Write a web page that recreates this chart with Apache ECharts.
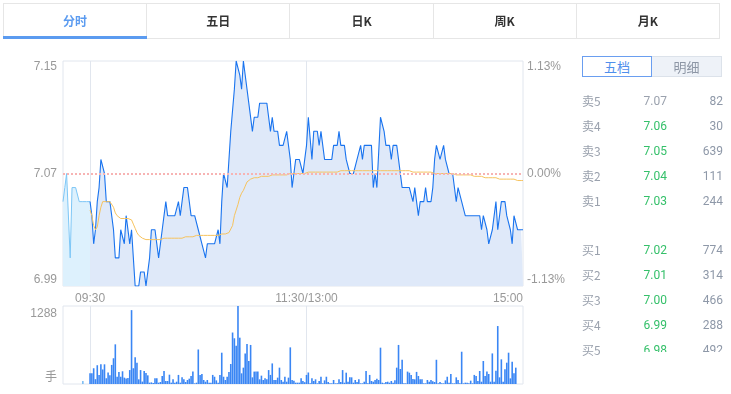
<!DOCTYPE html>
<html><head><meta charset="utf-8">
<script src="https://cdn.jsdelivr.net/npm/echarts@6/dist/echarts.min.js"></script>
<style>
body{margin:0;background:#fff;font-family:"Noto Sans CJK SC","Noto Sans",sans-serif;}
#wrap{position:relative;width:731px;height:394px;overflow:hidden;background:#fff;}
#chart{position:absolute;left:0;top:0;width:731px;height:394px;}
.tabs{position:absolute;left:3px;top:3px;width:717px;height:36px;border:1px solid #e6e6e6;box-sizing:border-box;display:flex;}
.tab{flex:1;text-align:center;line-height:33px;font-size:12px;color:#333;border-right:1px solid #e6e6e6;position:relative;font-weight:bold;}
.tab:last-child{border-right:none;}
.tab.active{color:#5b9bf0;}
.tab.active:after{content:"";position:absolute;left:-1px;right:-1px;bottom:-1px;height:3px;background:#5b9bf0;}
.btn{position:absolute;top:56px;width:70px;height:21px;box-sizing:border-box;text-align:center;line-height:19px;font-size:13px;}
.btn.on{border:1px solid #6a9ef0;color:#4f8fec;background:#fff;}
.btn.off{border:1px solid #dce2ea;border-left:none;color:#8d96a5;background:#eef2f8;}
.lbl{position:absolute;left:582px;font-size:12px;line-height:16px;color:#9aa1ad;}
#clip{position:absolute;left:560px;top:0;width:171px;height:352px;overflow:hidden;}
.num{position:absolute;font-size:12px;line-height:16px;font-family:Roboto,"Noto Sans",sans-serif;}
</style></head>
<body>
<div id="wrap">
  <div id="chart"></div>
  <div class="tabs" id="tabs"></div>
  <div class="btn on" style="left:582px">五档</div>
  <div class="btn off" style="left:652px">明细</div>
  <div id="book"></div>
  <div id="clip"></div>
</div>
<script>
// ---------- data ----------
const prevClose = 7.07;
const tabNames = ['分时','五日','日K','周K','月K'];
const priceTicks = [6.99, 7.07, 7.15];
const xTickIdx = [15, 135, 255];
const xTickLabels = ['09:30','11:30/13:00','15:00'];
const volTicks = [0, 1288];

// pre-market 09:15 - 09:30
const preMarket = [7.05,7.06,7.07,7.07,7.01,7.06,7.06,7.06,7.06,7.05,7.05,7.05,7.05,7.05,7.05,7.05];
const preVolume = [0,0,0,0,0,0,0,0,0,0,0,50,0,0,0];

// 09:30 - 15:00 price
const mainPrices = [
7.05,7.04,7.02,7.03,7.05,7.06,7.08,7.08,7.07,7.05,
7.05,7.05,7.05,7.03,7.01,7.01,7.01,7.03,7.03,7.02,
7.04,7.04,7.02,7.03,7.01,6.99,6.99,6.99,7.00,7.00,
7.00,6.99,7.00,7.01,7.03,7.03,7.03,7.02,7.01,7.02,
7.03,7.04,7.05,7.04,7.04,7.04,7.04,7.04,7.04,7.05,
7.04,7.05,7.06,7.06,7.06,7.05,7.04,7.04,7.04,7.04,
7.03,7.03,7.02,7.02,7.01,7.02,7.02,7.02,7.02,7.02,
7.02,7.03,7.02,7.05,7.07,7.07,7.06,7.06,7.10,7.10,
7.13,7.15,7.15,7.14,7.13,7.15,7.15,7.13,7.12,7.12,
7.10,7.11,7.11,7.11,7.12,7.12,7.12,7.12,7.12,7.11,
7.10,7.11,7.10,7.10,7.10,7.09,7.09,7.09,7.09,7.10,
7.10,7.08,7.06,7.07,7.08,7.08,7.08,7.08,7.07,7.08,
7.09,7.11,7.11,7.08,7.10,7.10,7.10,7.09,7.10,7.09,
7.08,7.08,7.08,7.08,7.08,7.09,7.09,7.09,7.10,7.09,
7.09,7.09,7.08,7.08,7.07,7.07,7.07,7.07,7.08,7.08,
7.09,7.08,7.09,7.09,7.09,7.09,7.09,7.06,7.07,7.06,
7.06,7.11,7.11,7.10,7.09,7.09,7.09,7.08,7.09,7.09,
7.09,7.08,7.08,7.06,7.06,7.06,7.06,7.06,7.06,7.05,
7.06,7.05,7.04,7.05,7.05,7.05,7.06,7.05,7.05,7.05,
7.06,7.08,7.09,7.09,7.08,7.08,7.09,7.08,7.08,7.07,
7.07,7.07,7.07,7.05,7.06,7.06,7.05,7.05,7.04,7.04,
7.04,7.04,7.04,7.04,7.04,7.04,7.04,7.03,7.04,7.04,
7.03,7.02,7.02,7.03,7.03,7.05,7.03,7.03,7.05,7.05,
7.05,7.04,7.04,7.03,7.02,7.04,7.04,7.03,7.03,7.03,7.03];

// average price
const avgPrices = [
7.044,7.040,7.033,7.030,7.032,7.040,7.046,7.050,7.050,7.050,
7.050,7.050,7.050,7.046,7.042,7.040,7.039,7.038,7.038,7.038,
7.038,7.038,7.038,7.037,7.034,7.031,7.028,7.026,7.025,7.024,
7.023,7.023,7.023,7.023,7.023,7.023,7.023,7.023,7.023,7.023,
7.023,7.024,7.024,7.024,7.024,7.024,7.024,7.024,7.024,7.024,
7.024,7.024,7.024,7.025,7.025,7.025,7.025,7.025,7.026,7.026,
7.026,7.026,7.026,7.026,7.026,7.026,7.026,7.026,7.026,7.026,
7.026,7.026,7.026,7.027,7.027,7.027,7.027,7.028,7.029,7.033,
7.040,7.044,7.048,7.053,7.056,7.058,7.061,7.064,7.065,7.066,
7.066,7.067,7.067,7.067,7.068,7.068,7.068,7.068,7.068,7.068,
7.069,7.069,7.069,7.069,7.069,7.069,7.069,7.069,7.069,7.069,
7.070,7.070,7.070,7.070,7.070,7.070,7.070,7.070,7.070,7.070,
7.070,7.071,7.071,7.071,7.071,7.071,7.071,7.071,7.071,7.071,
7.071,7.071,7.071,7.071,7.071,7.071,7.071,7.071,7.072,7.072,
7.072,7.072,7.072,7.072,7.072,7.072,7.072,7.072,7.072,7.072,
7.072,7.072,7.072,7.072,7.072,7.072,7.072,7.072,7.072,7.072,
7.072,7.072,7.072,7.072,7.072,7.072,7.072,7.072,7.072,7.072,
7.072,7.072,7.072,7.072,7.072,7.072,7.072,7.072,7.071,7.071,
7.071,7.071,7.071,7.071,7.071,7.071,7.071,7.071,7.071,7.071,
7.071,7.070,7.070,7.070,7.070,7.070,7.070,7.070,7.070,7.070,
7.070,7.070,7.069,7.069,7.069,7.069,7.069,7.069,7.069,7.069,
7.069,7.069,7.068,7.068,7.068,7.068,7.068,7.068,7.068,7.067,
7.067,7.067,7.067,7.067,7.067,7.067,7.067,7.066,7.066,7.066,
7.066,7.066,7.066,7.066,7.066,7.066,7.065,7.065,7.065,7.065,7.065];

// volume (手)
const mainVolume = [
176,176,260,80,310,150,325,240,325,95,
190,145,315,425,655,120,200,120,210,105,
90,100,230,1220,260,440,350,77,230,40,
215,180,143,22,27,17,93,93,22,33,
132,215,50,50,154,22,77,22,38,150,
22,110,77,33,66,88,132,205,11,22,
570,150,165,66,38,66,22,22,150,120,
60,22,150,517,120,66,120,200,330,850,
755,630,1288,765,176,270,505,660,380,645,
110,205,205,205,77,138,66,93,77,230,
150,340,66,66,105,270,66,38,120,38,
105,605,66,55,22,22,22,93,50,30,
150,190,11,93,50,77,11,50,120,11,
60,120,33,11,11,66,11,11,77,33,
230,22,187,38,110,110,22,66,33,77,
11,11,38,215,11,150,50,38,66,88,
66,600,22,11,33,38,22,50,22,60,
270,645,248,400,11,11,205,187,150,83,
77,200,132,77,77,11,11,66,38,66,
44,33,400,11,33,11,11,60,120,22,
165,11,11,110,66,11,533,11,22,22,
11,55,11,150,132,50,215,38,380,132,
205,165,38,505,38,220,957,110,407,38,
242,352,517,93,368,176,270,0,0,0,0];

// order book
const sellLabels = ['卖5','卖4','卖3','卖2','卖1'];
const sellPrices = ['7.07','7.06','7.05','7.04','7.03'];
const sellVols = ['82','30','639','111','244'];
const buyLabels = ['买1','买2','买3','买4','买5'];
const buyPrices = ['7.02','7.01','7.00','6.99','6.98'];
const buyVols = ['774','314','466','288','492'];

// ---------- html parts ----------
const tabs = document.getElementById('tabs');
tabNames.forEach((t,i)=>{const d=document.createElement('div');d.className='tab'+(i===0?' active':'');d.textContent=t;tabs.appendChild(d);});
const book = document.getElementById('book'), clip = document.getElementById('clip');
const rows = [];
sellLabels.forEach((l,i)=>rows.push({l, p:sellPrices[i], v:sellVols[i], y:101+25*i}));
buyLabels.forEach((l,i)=>rows.push({l, p:buyPrices[i], v:buyVols[i], y:250+25*i}));
rows.forEach(r=>{
  const a=document.createElement('div');a.className='lbl';a.style.top=(r.y-8)+'px';a.textContent=r.l;book.appendChild(a);
  const p=document.createElement('div');p.className='num';p.style.top=(r.y-8)+'px';p.style.right='64px';
  p.style.color = parseFloat(r.p)<prevClose-1e-9 ? '#35c06a' : '#9aa1ad';p.textContent=r.p;clip.appendChild(p);
  const v=document.createElement('div');v.className='num';v.style.top=(r.y-8)+'px';v.style.right='8px';v.style.color='#8e98a8';v.textContent=r.v;clip.appendChild(v);
});

// ---------- chart ----------
function pad(n){return (n<10?'0':'')+n;}
const times=[];
for(let m=9*60+15;m<=11*60+30;m++) times.push(pad(Math.floor(m/60))+':'+pad(m%60));
for(let m=13*60+1;m<=15*60;m++) times.push(pad(Math.floor(m/60))+':'+pad(m%60));
const N = times.length;
const preFull = preMarket.concat(new Array(N-preMarket.length).fill(null));
const mainFull = new Array(15).fill(null).concat(mainPrices);
const avgFull = new Array(15).fill(null).concat(avgPrices);
const volFull = preVolume.map(v=>({value:v,itemStyle:{color:'#7dbdf3'}})).concat(mainVolume);

const pMin = priceTicks[0], pMax = priceTicks[priceTicks.length-1];
const gridLine = '#e1e6ee';
const labelMap = {}; xTickIdx.forEach((k,i)=>labelMap[k]=xTickLabels[i]);
const lblColor = '#999';

const chart = echarts.init(document.getElementById('chart'));
chart.setOption({
  animation:false,
  textStyle:{fontFamily:'"Liberation Sans", Arial, "Noto Sans CJK SC", sans-serif'},
  grid:[
    {left:63, top:61, width:460, height:225, show:true, borderColor:gridLine, borderWidth:1},
    {left:63, top:306, width:460, height:78, show:true, borderColor:gridLine, borderWidth:1}
  ],
  xAxis:[
    {gridIndex:0, type:'category', data:times, boundaryGap:false,
     axisLine:{show:false}, axisTick:{show:false},
     axisLabel:{interval:(i)=>labelMap[i]!==undefined, formatter:(v,i)=>labelMap[i]||'', color:lblColor, fontSize:12, margin:7, alignMaxLabel:'right', showMaxLabel:true},
     splitLine:{show:true, interval:(i)=>i===15||i===135, lineStyle:{color:gridLine,width:1}}},
    {gridIndex:1, type:'category', data:times, boundaryGap:false,
     axisLine:{show:false}, axisTick:{show:false}, axisLabel:{show:false},
     splitLine:{show:true, interval:(i)=>i===15||i===135, lineStyle:{color:gridLine,width:1}}}
  ],
  yAxis:[
    {gridIndex:0, type:'value', min:pMin, max:pMax, position:'left',
     axisLine:{show:false}, axisTick:{show:false}, splitLine:{show:false},
     axisLabel:{customValues:priceTicks, formatter:v=>v.toFixed(2), color:lblColor, fontSize:12, margin:6,
       verticalAlignMinLabel:'bottom', verticalAlignMaxLabel:'top'}},
    {gridIndex:0, type:'value', min:pMin, max:pMax, position:'right',
     axisLine:{show:false}, axisTick:{show:false}, splitLine:{show:false},
     axisLabel:{customValues:priceTicks, formatter:v=>{let p=(v-prevClose)/prevClose*100; if(Math.abs(p)<1e-9)p=0; return p.toFixed(2)+'%';},
       color:lblColor, fontSize:12, margin:4, verticalAlignMinLabel:'bottom', verticalAlignMaxLabel:'top'}},
    {gridIndex:1, type:'value', min:volTicks[0], max:volTicks[1],
     axisLine:{show:false}, axisTick:{show:false}, splitLine:{show:false},
     axisLabel:{customValues:volTicks, formatter:v=>v===0?'手':String(v), color:lblColor, fontSize:12, margin:6,
       verticalAlignMinLabel:'bottom', verticalAlignMaxLabel:'top', padding:[2,0,0,0]}}
  ],
  series:[
    {type:'line', xAxisIndex:0, yAxisIndex:0, data:preFull, symbol:'none', silent:true,
     lineStyle:{width:1,color:'#7cc6f6'}, areaStyle:{origin:'start', color:'#ddf1fd', opacity:1}},
    {type:'line', xAxisIndex:0, yAxisIndex:0, data:mainFull, symbol:'none', silent:true,
     lineStyle:{width:1.1,color:'#1a74ef'}, areaStyle:{origin:'start', color:'#dfe9f9', opacity:1},
     markLine:{symbol:'none', silent:true, label:{show:false}, animation:false,
       lineStyle:{type:[2,2], color:'#f7b3b3', width:2}, data:[{yAxis:prevClose}]}},
    {type:'line', xAxisIndex:0, yAxisIndex:0, data:avgFull, symbol:'none', silent:true,
     lineStyle:{width:1,color:'#f6c35e'}},
    {type:'bar', xAxisIndex:1, yAxisIndex:2, data:volFull, barWidth:1.6, silent:true,
     itemStyle:{color:'#3a86f4'}}
  ]
});
</script>
</body></html>
